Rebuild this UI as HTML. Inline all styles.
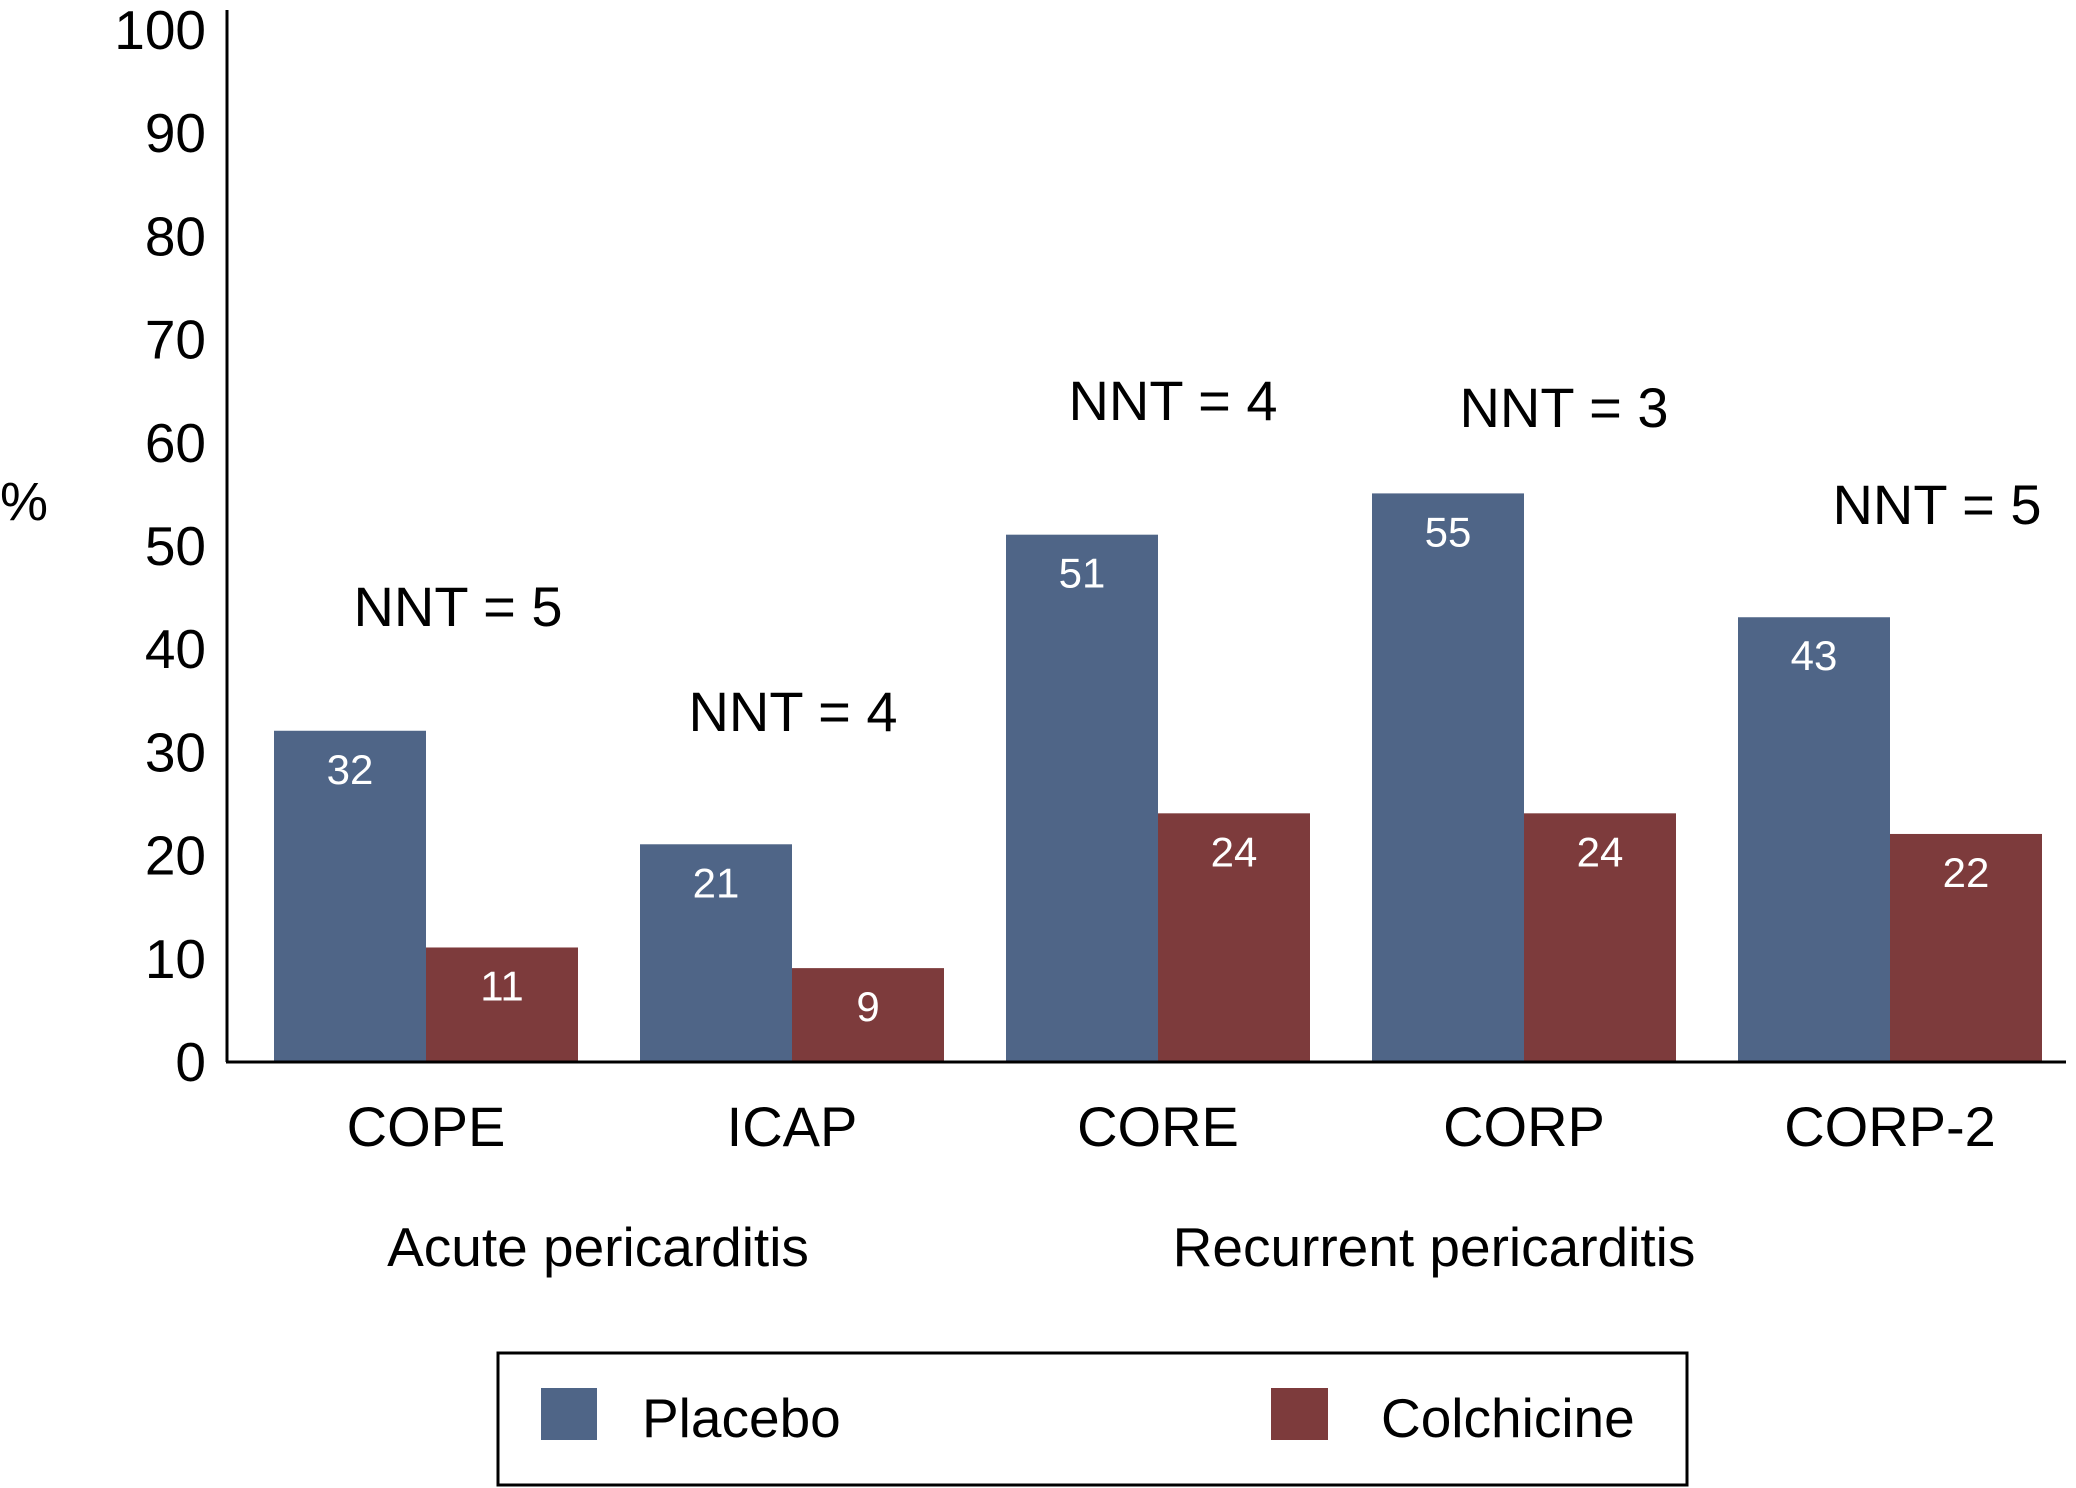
<!DOCTYPE html>
<html><head><meta charset="utf-8"><style>
body{margin:0;background:#fff}
svg{display:block;font-family:"Liberation Sans",Arial,sans-serif}
</style></head><body>
<svg id="c" width="2076" height="1488" viewBox="0 0 2076 1488">
<g id="plot"></g>
<text x="24" y="520" font-size="54" text-anchor="middle">%</text>
<text x="598" y="1266" font-size="55" text-anchor="middle">Acute pericarditis</text>
<text x="1434" y="1266" font-size="55" text-anchor="middle">Recurrent pericarditis</text>
<g>
<rect x="498" y="1353" width="1189" height="132" fill="none" stroke="#000" stroke-width="3"/>
<rect x="541" y="1388" width="56" height="52" fill="#4f6587"/>
<text x="642" y="1437" font-size="55">Placebo</text>
<rect x="1271" y="1388" width="57" height="52" fill="#7d3b3c"/>
<text x="1381" y="1437" font-size="55">Colchicine</text>
</g>
</svg>
<script>
const categories=["COPE","ICAP","CORE","CORP","CORP-2"];
const placebo=[32,21,51,55,43];
const colchicine=[11,9,24,24,22];
const nntLabels=["NNT = 5","NNT = 4","NNT = 4","NNT = 3","NNT = 5"];
const nntValues=[40,30,60,60,50];
const yTicks=[0,10,20,30,40,50,60,70,80,90,100];
const NS="http://www.w3.org/2000/svg";
const g=document.getElementById('plot');
const y0=1061,y100=29;
function y(v){return y0-(y0-y100)*v/100;}
const gx0=274,pitch=366,bw=152;
function x(i){return gx0+i*pitch;}
function mk(t,a){const e=document.createElementNS(NS,t);for(const k in a)e.setAttribute(k,a[k]);g.appendChild(e);return e;}
yTicks.forEach(v=>{const t=mk('text',{x:206,y:y(v)+20,'font-size':55,'text-anchor':'end'});t.textContent=v;

});
categories.forEach((c,i)=>{
 const b1=mk('rect',{x:x(i),y:y(placebo[i]),width:bw,height:y0-y(placebo[i]),fill:'#4f6587'});
 
 
 const b2=mk('rect',{x:x(i)+bw,y:y(colchicine[i]),width:bw,height:y0-y(colchicine[i]),fill:'#7d3b3c'});
 
 
 const l1=mk('text',{x:x(i)+bw/2,y:y(placebo[i])+53,'font-size':42,fill:'#fff','text-anchor':'middle'});l1.textContent=placebo[i];
 
 
 const l2=mk('text',{x:x(i)+bw*1.5,y:y(colchicine[i])+53,'font-size':42,fill:'#fff','text-anchor':'middle'});l2.textContent=colchicine[i];
 
 
 const cl=mk('text',{x:x(i)+bw,y:1146,'font-size':56,'text-anchor':'middle'});cl.textContent=c;
 
 
});
const nntPos=[[458,626],[793,731],[1173,420],[1564,427],[1937,524]];
nntLabels.forEach((s,i)=>{const t=mk('text',{x:nntPos[i][0],y:nntPos[i][1],'font-size':56,'text-anchor':'middle'});t.textContent=s;
 
 });
const ya=mk('line',{x1:227,y1:10,x2:227,y2:1062,stroke:'#000','stroke-width':3});


const xa=mk('line',{x1:226,y1:1062,x2:2066,y2:1062,stroke:'#000','stroke-width':3});


</script>
</body></html>
